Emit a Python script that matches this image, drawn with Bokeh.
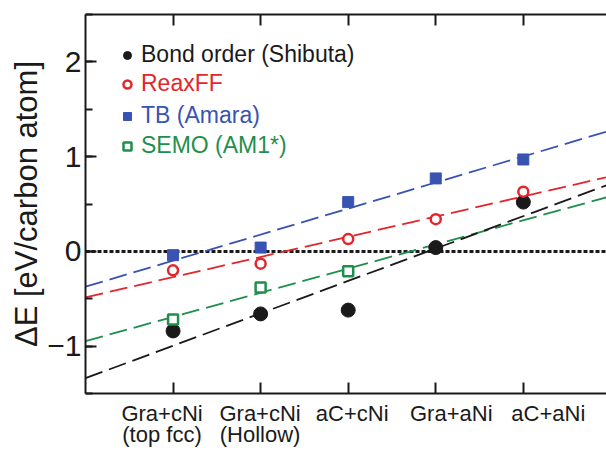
import numpy as np
from bokeh.plotting import figure
from bokeh.models import (Range1d, LinearAxis, FixedTicker, SingleIntervalTicker,
                          Legend, LegendItem, Span)
from bokeh.embed import file_html
from bokeh.resources import INLINE

# ---------------- data ----------------
categories = ["Gra+cNi\n(top fcc)", "Gra+cNi\n(Hollow)", "aC+cNi", "Gra+aNi", "aC+aNi"]
bond_order = [-0.84, -0.66, -0.62, 0.04, 0.52]      # Bond order (Shibuta)
reaxff = [-0.20, -0.13, 0.13, 0.34, 0.63]           # ReaxFF
tb_amara = [-0.04, 0.04, 0.52, 0.77, 0.97]          # TB (Amara)
semo = [-0.72, -0.38, -0.21]                        # SEMO (AM1*)
series_names = ["Bond order (Shibuta)", "ReaxFF", "TB (Amara)", "SEMO (AM1*)"]
y_title = "\u0394E [eV/carbon atom]"

# ---------------- layout / style ----------------
FONT = "Liberation Sans"
INK = "#1a1a1a"
RED = "#e3262c"
BLUE = "#3853b2"
GREEN = "#1f8f4c"
label_x = [0.874, 1.994, 3.046, 4.177, 5.286]   # centres of the category tick labels
legend_rows = [338, 309, 277, 247]               # legend row centres, px above frame bottom

xs = list(range(1, len(categories) + 1))

p = figure(width=606, height=459, output_backend="svg", toolbar_location=None,
           x_range=Range1d(0, 5.95), y_range=Range1d(-1.5, 2.5),
           x_axis_location=None, y_axis_location="left",
           min_border_left=85, min_border_right=0, min_border_top=14,
           min_border_bottom=66)
p.outline_line_color = None
p.xgrid.visible = False
p.ygrid.visible = False
p.background_fill_color = "white"
p.border_fill_color = "white"

# left axis
yax = p.yaxis[0]
yax.ticker = SingleIntervalTicker(interval=1, num_minor_ticks=2)
yax.major_tick_in = 11
yax.major_tick_out = 0
yax.minor_tick_in = 7
yax.minor_tick_out = 0
yax.axis_line_width = 2
yax.major_tick_line_width = 2
yax.minor_tick_line_width = 2
yax.axis_line_color = INK
yax.major_tick_line_color = INK
yax.minor_tick_line_color = INK
yax.major_label_text_font = FONT
yax.major_label_text_font_size = "30px"
yax.major_label_text_color = INK
yax.major_label_standoff = 4
yax.major_label_overrides = {-1: "\u22121"}
yax.axis_label = y_title
yax.axis_label_text_font = FONT
yax.axis_label_text_font_size = "31px"
yax.axis_label_text_font_style = "normal"
yax.axis_label_text_color = INK
yax.axis_label_standoff = 0

# bottom axis: ticks only
xb = LinearAxis(ticker=FixedTicker(ticks=xs, minor_ticks=[]),
                major_tick_in=11, major_tick_out=0,
                axis_line_width=2, major_tick_line_width=2,
                axis_line_color=INK, major_tick_line_color=INK,
                minor_tick_line_color=None,
                major_label_overrides={x: "" for x in xs},
                major_label_text_font_size="1px", major_label_standoff=0)
p.add_layout(xb, "below")

# bottom axis: category labels
xl = LinearAxis(ticker=FixedTicker(ticks=label_x, minor_ticks=[]),
                axis_line_color=None, major_tick_line_color=None,
                minor_tick_line_color=None,
                major_label_overrides=dict(zip(label_x, categories)),
                major_label_text_font=FONT, major_label_text_font_size="22px",
                major_label_text_color=INK, major_label_standoff=1,
                major_label_text_line_height=0.85)
p.add_layout(xl, "below")

# top axis: ticks only
xt = LinearAxis(ticker=FixedTicker(ticks=xs, minor_ticks=[]),
                major_tick_in=11, major_tick_out=0,
                axis_line_width=2, major_tick_line_width=2,
                axis_line_color=INK, major_tick_line_color=INK,
                minor_tick_line_color=None,
                major_label_overrides={x: "" for x in xs},
                major_label_text_font_size="1px", major_label_standoff=0)
p.add_layout(xt, "above")

# zero line
p.add_layout(Span(location=0, dimension="width", line_color=INK, line_width=3,
                  line_dash="4 2", level="underlay"))

# trend lines (least-squares fits of each series)
xe = np.array([p.x_range.start, p.x_range.end])
for vals, col in [(tb_amara, BLUE), (reaxff, RED), (semo, GREEN), (bond_order, INK)]:
    k, b = np.polyfit(xs[:len(vals)], vals, 1)
    p.line(xe, k * xe + b, line_color=col, line_width=1.8, line_dash="18 7")

# markers
r_bo = p.scatter(xs, bond_order, marker="circle", size=14, fill_color=INK, line_color=INK)
r_rx = p.scatter(xs, reaxff, marker="circle", size=10, fill_color="white",
                 line_color=RED, line_width=2.5)
r_tb = p.scatter(xs, tb_amara, marker="square", size=11, fill_color=BLUE, line_color=BLUE)
r_se = p.scatter(xs[:len(semo)], semo, marker="square", size=10, fill_color="white",
                 line_color=GREEN, line_width=2.5)

# legend: one legend per entry so each label keeps its series colour
for r, name, col, yc in zip([r_bo, r_rx, r_tb, r_se], series_names,
                            [INK, RED, BLUE, GREEN], legend_rows):
    lg = Legend(items=[LegendItem(label=name, renderers=[r])],
                location=(32, yc - 13), padding=0, margin=0, spacing=0,
                border_line_color=None, background_fill_alpha=0,
                glyph_width=20, glyph_height=20, label_height=20,
                label_standoff=4, label_text_font=FONT,
                label_text_font_size="23px", label_text_color=col)
    p.add_layout(lg)

open("out.html", "w").write(file_html(p, INLINE))
